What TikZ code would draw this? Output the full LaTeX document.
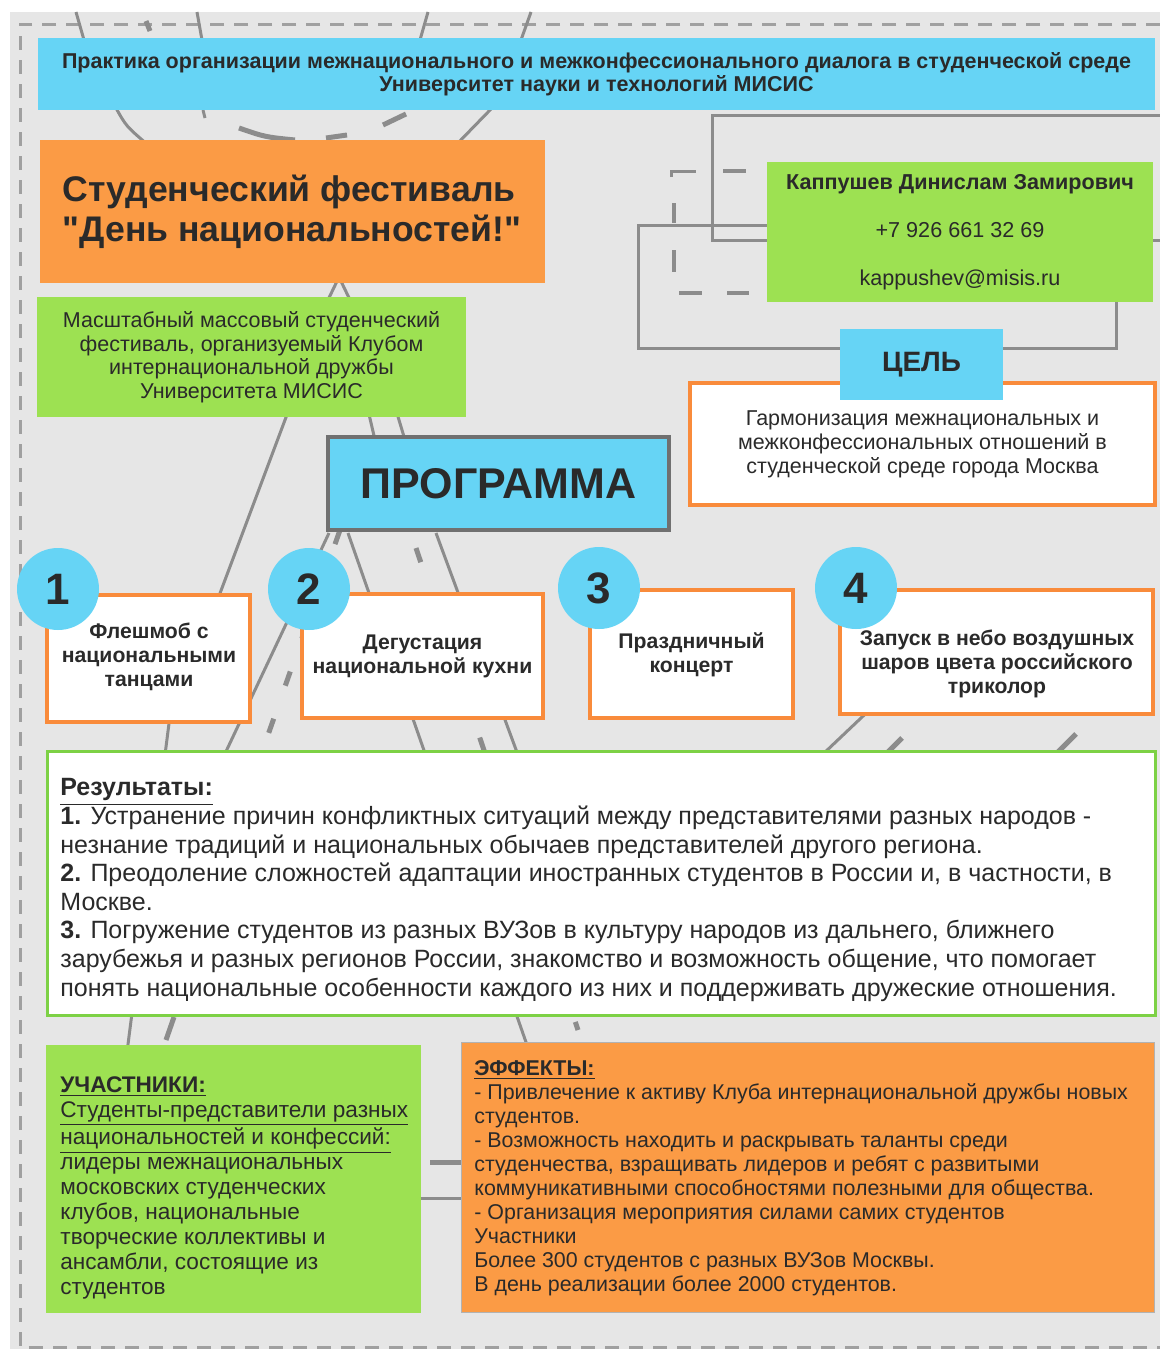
\documentclass[tikz,border=0pt]{standalone}
\usepackage{fontspec}
\setmainfont{Liberation Sans}[Ligatures=TeXOff]
\usepackage{tikz}

\definecolor{skyblue}{HTML}{66D4F5}
\definecolor{festorange}{HTML}{FB9B45}
\definecolor{leafgreen}{HTML}{9DE152}
\definecolor{edgeorange}{HTML}{F98B3B}
\definecolor{edgegreen}{HTML}{7DD145}
\definecolor{paper}{HTML}{E6E6E6}
\definecolor{roadgray}{HTML}{8C8C8C}
\definecolor{framegray}{HTML}{A0A0A0}
\definecolor{ink}{HTML}{2A2A2A}

\begin{document}
\begin{tikzpicture}[x=0.5pt, y=-0.5pt,
    every node/.style={text=ink, inner sep=0pt},
    wh/.style 2 args={minimum width=#1*0.5pt, minimum height=#2*0.5pt},
    road/.style={draw=roadgray, line width=1.5pt},
    roadmark/.style={draw=roadgray, line width=2.5pt},
    stepbox/.style={fill=white, draw=edgeorange, line width=2pt},
    steptext/.style={align=center, font=\bfseries\fontsize{10.6}{12}\selectfont},
    numdisc/.style={circle, fill=skyblue, minimum size=41pt,
        font=\bfseries\fontsize{22}{24}\selectfont}]
\useasboundingbox (0,0) rectangle (1160,1349);

% Paper and dashed frame
\fill[paper] (10,12) rectangle (1160,1349);
\draw[framegray, line width=1.5pt, dash pattern=on 7pt off 5pt]
    (1160,24) -- (20,24) -- (20,1347) -- (1160,1347);

% Roads behind the boxes (top)
\draw[road] (76,12) -- (84,40);
\draw[road] (197,12) -- (202,40);
\draw[road] (428,12) -- (420,40);
\draw[road] (531,12) -- (521,40);
\draw[roadmark] (146,21) -- (150,31);
\draw[road] (116,108) .. controls (126,126) .. (148,145);
\draw[road] (492,108) -- (456,145);
\draw[road] (203,110) -- (205,118);
\draw[roadmark] (239,128) .. controls (265,137) .. (295,140);
\draw[roadmark] (326,138) -- (347,135);
\draw[roadmark] (383,125) -- (406,114);
\draw[road] (340,275) -- (327,302);
\draw[road] (338,275) -- (351,302);

% Roads round the programme
\draw[road] (300,380) -- (210,620);
\draw[road] (368,410) -- (375,440);
\draw[road] (396,410) -- (405,440);
\draw[road] (329,533) -- (222,760);
\draw[roadmark, dash pattern=on 7.5pt off 17.5pt] (340,530) -- (262,752);
\draw[roadmark] (174,1017) -- (166,1040);
\draw[road] (348,533) -- (527,1045);
\draw[road] (436,533) -- (518,755);
\draw[roadmark, dash pattern=on 7.5pt off 17.5pt] (416,548) -- (578,1030);
\draw[road] (172,700) -- (126,1060);
\draw[road] (880,700) -- (822,755);
\draw[roadmark] (902,738) -- (886,754);
\draw[roadmark] (1076,734) -- (1056,754);
\draw[roadmark] (430,1162) -- (465,1162);
\draw[road] (415,1198) -- (465,1198);

% Frames round the contact
\draw[road] (1175,240) -- (712,240) -- (712,115) -- (1175,115);
\draw[road] (638,225) rectangle (1116,348);
\draw[road] (671,177) -- (671,171) -- (696,171);
\foreach \a/\b in {{723,171}/{746,171}, {674,203}/{674,223}, {674,250}/{674,272},
                   {679,293}/{702,293}, {727,293}/{749,293}} {
    \draw[road, line width=2pt] (\a) -- (\b);
}

% Heading
\node (title) [fill=skyblue, wh={1117}{72}, align=center,
    font=\bfseries\fontsize{10.75}{11.5}\selectfont] at (596.5,74)
    {Практика организации межнационального и межконфессионального диалога в студенческой среде\\
     Университет науки и технологий МИСИС};

% Festival and its description
\node (fest) [fill=festorange, wh={505}{143}, align=left,
    font=\bfseries\fontsize{17.8}{20}\selectfont] at (292,211.5)
    {Студенческий фестиваль\\"День национальностей!"};
\node (descr) [fill=leafgreen, wh={429}{120}, align=center,
    font=\fontsize{10.75}{11.75}\selectfont] at (251.5,357)
    {Масштабный массовый студенческий\\фестиваль, организуемый Клубом\\интернациональной дружбы\\Университета МИСИС};

% Contact
\node (contact) [fill=leafgreen, wh={386}{140}, align=center,
    font=\fontsize{10.8}{24}\selectfont] at (960,232)
    {\textbf{Каппушев Динислам Замирович}\\+7 926 661 32 69\\kappushev@misis.ru};

% Goal
\node (goal) [fill=white, draw=edgeorange, line width=2pt, wh={465}{122}, align=center,
    font=\fontsize{10.75}{12}\selectfont] at (922.5,444)
    {Гармонизация межнациональных и\\межконфессиональных отношений в\\студенческой среде города Москва};
\node (goalhead) [fill=skyblue, wh={163}{71},
    font=\bfseries\fontsize{14}{16}\selectfont] at (921.5,364.5) {ЦЕЛЬ};

% Programme
\node (prog) [fill=skyblue, draw=roadgray!80!black, line width=2pt, wh={341}{93},
    font=\bfseries\fontsize{21.5}{24}\selectfont] at (498.5,483.5) {ПРОГРАММА};

% Programme step: name, number, disc centre, box centre, width, height, text centre, text
\newcommand{\progstep}[8]{
    \node (#1) [stepbox, wh={#5}{#6}] at (#4) {};
    \node (#1text) [steptext] at (#7) {#8};
    \node (#1num) [numdisc] at (#3) {#2};
}

\progstep{stepa}{1}{58,589}{148.5,658.5}{203}{127}{149,657}{Флешмоб с\\национальными\\танцами}
\progstep{stepb}{2}{309,589}{422.5,656}{241}{124}{422.5,656.5}{Дегустация\\национальной кухни}
\progstep{stepc}{3}{599,588}{691.5,654}{203}{128}{691.5,655}{Праздничный\\концерт}
\progstep{stepd}{4}{856,588}{996.5,652}{313}{124}{997,664}{Запуск в небо воздушных\\шаров цвета российского\\триколор}

% Results
\node (results) [fill=white, draw=edgegreen, line width=1.5pt, wh={1108}{264}] at (601,883) {};
\node (resultstext) [anchor=west, align=left, font=\fontsize{12.5}{14.3}\selectfont] at (60,890)
    {\textbf{\underline{Результаты:}}\\
     \textbf{1.} Устранение причин конфликтных ситуаций между представителями разных народов -\\
     незнание традиций и национальных обычаев представителей другого региона.\\
     \textbf{2.} Преодоление сложностей адаптации иностранных студентов в России и, в частности, в\\
     Москве.\\
     \textbf{3.} Погружение студентов из разных ВУЗов в культуру народов из дальнего, ближнего\\
     зарубежья и разных регионов России, знакомство и возможность общение, что помогает\\
     понять национальные особенности каждого из них и поддерживать дружеские отношения.};

% Participants
\node (members) [fill=leafgreen, wh={375}{268}] at (233.5,1179) {};
\node (memberstext) [anchor=west, align=left, font=\fontsize{11.3}{12.5}\selectfont] at (60,1188)
    {\textbf{\underline{УЧАСТНИКИ:}}\\
     \underline{Студенты-представители разных}\\
     \underline{национальностей и конфессий:}\\
     лидеры межнациональных\\
     московских студенческих\\
     клубов, национальные\\
     творческие коллективы и\\
     ансамбли, состоящие из\\
     студентов};

% Effects
\node (effects) [fill=festorange, draw=gray!60, line width=0.5pt, wh={693}{270}] at (807.5,1177) {};
\node (effectstext) [anchor=west, align=left, font=\fontsize{10.7}{12}\selectfont] at (474,1178)
    {\textbf{\underline{ЭФФЕКТЫ:}}\\
     - Привлечение к активу Клуба интернациональной дружбы новых\\
     студентов.\\
     - Возможность находить и раскрывать таланты среди\\
     студенчества, взращивать лидеров и ребят с развитыми\\
     коммуникативными способностями полезными для общества.\\
     - Организация мероприятия силами самих студентов\\
     Участники\\
     Более 300 студентов с разных ВУЗов Москвы.\\
     В день реализации более 2000 студентов.};
\end{tikzpicture}
\end{document}
